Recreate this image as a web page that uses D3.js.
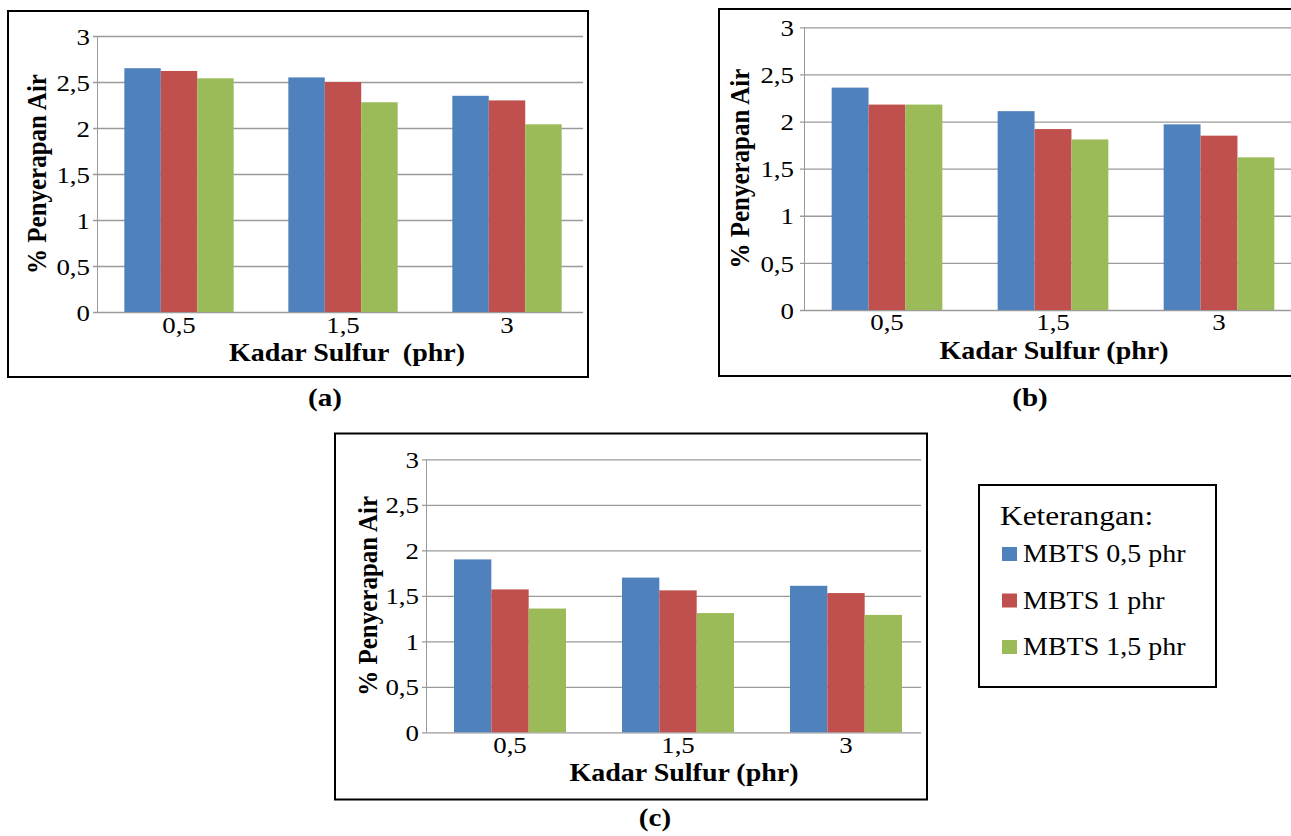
<!DOCTYPE html>
<html>
<head>
<meta charset="utf-8">
<script src="https://cdnjs.cloudflare.com/ajax/libs/d3/7.8.5/d3.min.js"></script>
<style>
  body { margin: 0; background: #fff; }
</style>
</head>
<body>
<div id="chart"></div>
<script>
// categories and series
var categories = ["0,5", "1,5", "3"];
var seriesNames = ["MBTS 0,5 phr", "MBTS 1 phr", "MBTS 1,5 phr"];
var seriesColors = ["#4F81BD", "#C0504D", "#9BBB59"];
var yTicks = [0, 0.5, 1, 1.5, 2, 2.5, 3];
var yTickLabels = ["0", "0,5", "1", "1,5", "2", "2,5", "3"];

// values per series (MBTS 0,5 / 1 / 1,5 phr), one array per panel
var valuesA = [
  [2.65, 2.55, 2.35],
  [2.62, 2.50, 2.30],
  [2.54, 2.28, 2.04]
];
var valuesB = [
  [2.36, 2.11, 1.97],
  [2.18, 1.92, 1.85],
  [2.18, 1.81, 1.62]
];
var valuesC = [
  [1.90, 1.70, 1.61],
  [1.57, 1.56, 1.53],
  [1.36, 1.31, 1.29]
];

var svgWidth = 1291;
var svgHeight = 836;
var sx = 1.12; // text in the source picture is a bit wider than tall
var serif = "'Liberation Serif', 'Times New Roman', 'DejaVu Serif', serif";

var svg = d3.select("#chart")
  .append("svg")
  .attr("width", svgWidth)
  .attr("height", svgHeight)
  .style("font-family", serif);

// text helper, stretched horizontally around its anchor
function addText(parent, x, y, str, size, bold, anchor) {
  return parent.append("text")
    .attr("transform", `translate(${x}, ${y}) scale(${sx}, 1)`)
    .attr("text-anchor", anchor || "middle")
    .style("font-family", serif)
    .style("font-size", size + "px")
    .style("font-weight", bold ? "bold" : "normal")
    .style("white-space", "pre")
    .attr("fill", "#000")
    .text(str);
}

function drawPanel(values, L) {
  var g = svg.append("g");

  // outer frame
  g.append("rect")
    .attr("x", L.frame[0])
    .attr("y", L.frame[1])
    .attr("width", L.frame[2])
    .attr("height", L.frame[3])
    .attr("fill", "none")
    .attr("stroke", "#000")
    .attr("stroke-width", 2);

  var yScale = d3.scaleLinear()
    .domain([0, 3])
    .range([L.bottom, L.top]);

  var xScale = d3.scaleBand()
    .domain(categories)
    .range([L.left, L.left + 3 * L.step])
    .paddingInner(1 / 3)
    .paddingOuter(1 / 6);

  var xSub = d3.scaleBand()
    .domain(d3.range(seriesNames.length))
    .range([0, xScale.bandwidth()]);

  // y axis with gridlines
  var leftAxis = d3.axisLeft(yScale)
    .tickValues(yTicks)
    .tickFormat((d, i) => yTickLabels[i])
    .tickSizeInner(-(L.gridRight - L.left))
    .tickSizeOuter(0)
    .tickPadding(L.tickGap);

  var yAxis = g.append("g")
    .attr("transform", `translate(${L.left}, 0)`)
    .call(leftAxis)
    .attr("font-family", serif);

  yAxis.select(".domain").attr("stroke", "#9a9a9a");
  yAxis.selectAll("line")
    .attr("x1", -4)
    .attr("stroke", "#9a9a9a")
    .attr("stroke-width", 1.3);
  yAxis.selectAll("text")
    .attr("x", -L.tickGap / sx)
    .attr("dy", "0.34em")
    .attr("transform", `scale(${sx}, 1)`)
    .style("font-family", serif)
    .style("font-size", "24px")
    .attr("fill", "#000");

  // bars
  values.forEach(function(series, s) {
    g.append("g")
      .selectAll("rect")
      .data(series)
      .enter()
      .append("rect")
      .attr("x", (d, i) => xScale(categories[i]) + xSub(s))
      .attr("y", d => yScale(d))
      .attr("width", xSub.bandwidth())
      .attr("height", d => L.bottom - yScale(d))
      .attr("fill", seriesColors[s]);
  });

  // x axis labels
  var bottomAxis = d3.axisBottom(xScale).tickSize(0);
  var xAxis = g.append("g")
    .attr("transform", `translate(0, ${L.bottom})`)
    .call(bottomAxis)
    .attr("font-family", serif);
  xAxis.select(".domain").remove();
  xAxis.selectAll("text")
    .attr("y", L.xLabelY - L.bottom)
    .attr("dy", 0)
    .attr("transform", `scale(${sx}, 1)`)
    .style("font-family", serif)
    .style("font-size", "24px")
    .attr("fill", "#000");

  // axis titles
  addText(g, L.xTitleX, L.xTitleY, L.xTitle, 25, true);

  g.append("text")
    .attr("transform", `translate(${L.yTitleX}, ${(L.top + L.bottom) / 2}) rotate(-90) scale(1, ${sx})`)
    .attr("text-anchor", "middle")
    .style("font-family", serif)
    .style("font-size", "25px")
    .style("font-weight", "bold")
    .text("% Penyerapan Air");

  // panel tag
  addText(svg, L.tagX, L.tagY, L.tag, 26, true);
}

drawPanel(valuesA, {
  frame: [8, 11, 580, 366],
  left: 97, top: 36, bottom: 312, step: 164, gridRight: 583, tickGap: 7,
  xLabelY: 333, yTitleX: 46,
  xTitle: "Kadar Sulfur  (phr)", xTitleX: 347, xTitleY: 361,
  tag: "(a)", tagX: 325, tagY: 406
});

drawPanel(valuesB, {
  frame: [719, 9, 600, 367],
  left: 804, top: 27.3, bottom: 310, step: 166, gridRight: 1291, tickGap: 10,
  xLabelY: 330, yTitleX: 749,
  xTitle: "Kadar Sulfur (phr)", xTitleX: 1054, xTitleY: 359,
  tag: "(b)", tagX: 1030, tagY: 406
});

drawPanel(valuesC, {
  frame: [335, 433.5, 592, 366],
  left: 426, top: 459.3, bottom: 732.3, step: 168, gridRight: 921, tickGap: 7,
  xLabelY: 753, yTitleX: 377,
  xTitle: "Kadar Sulfur (phr)", xTitleX: 684, xTitleY: 781,
  tag: "(c)", tagX: 655, tagY: 826
});

// legend box
var legend = svg.append("g");

legend.append("rect")
  .attr("x", 979)
  .attr("y", 485)
  .attr("width", 237)
  .attr("height", 202)
  .attr("fill", "none")
  .attr("stroke", "#000")
  .attr("stroke-width", 2);

addText(legend, 1000, 525, "Keterangan:", 28, false, "start");

seriesNames.forEach(function(name, i) {
  var baseY = 562 + i * 46.5;
  legend.append("rect")
    .attr("x", 1002)
    .attr("y", baseY - 15)
    .attr("width", 15)
    .attr("height", 14)
    .attr("fill", seriesColors[i]);
  addText(legend, 1023, baseY, name, 25, false, "start");
});
</script>
</body>
</html>
